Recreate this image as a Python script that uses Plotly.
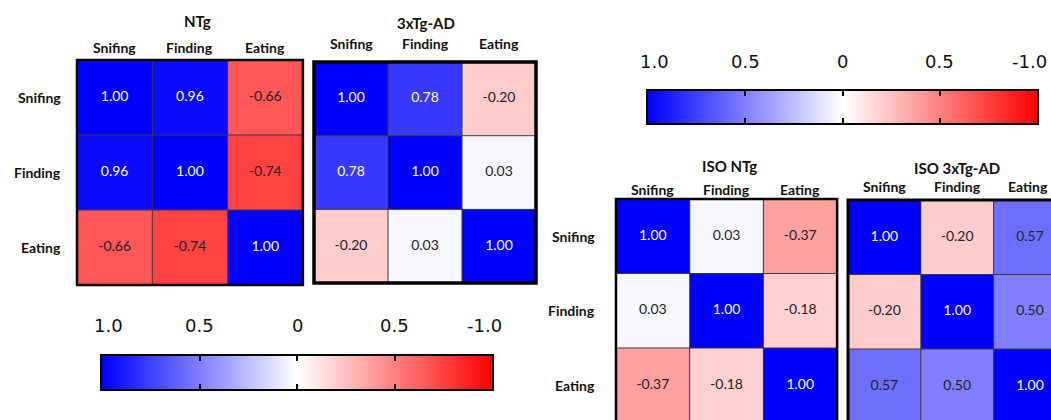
import plotly.graph_objects as go

W, H = 1051, 420

# ---------------- data ----------------
behaviors = ["Snifing", "Finding", "Eating"]
panel_titles = ["NTg", "3xTg-AD", "ISO NTg", "ISO 3xTg-AD"]

ntg = [[1.00, 0.96, -0.66],
       [0.96, 1.00, -0.74],
       [-0.66, -0.74, 1.00]]
tg_ad = [[1.00, 0.78, -0.20],
         [0.78, 1.00, 0.03],
         [-0.20, 0.03, 1.00]]
iso_ntg = [[1.00, 0.03, -0.37],
           [0.03, 1.00, -0.18],
           [-0.37, -0.18, 1.00]]
iso_tg_ad = [[1.00, -0.20, 0.57],
             [-0.20, 1.00, 0.50],
             [0.57, 0.50, 1.00]]

scale_vals = [1.0, 0.5, 0.0, -0.5, -1.0]
scale_labels = ["1.0", "0.5", "0", "0.5", "-1.0"]

# ---------------- styling / layout ----------------
colorscale = [[0.0, "rgb(255,0,0)"], [0.5, "rgb(255,255,255)"], [1.0, "rgb(0,0,255)"]]
LABEL_FONT = dict(family="Lato", size=14, color="#111111")
CELL_FONT = "Lato"


def fx(px):
    return px / W


def fy(py):
    return 1 - py / H


panels = [
    dict(z=ntg, left=77, top=60, cw=75.3, ch=75.0, tx=197, ty=21, cy=47, rx=63, bw=2.5),
    dict(z=tg_ad, left=314, top=62, cw=74.0, ch=73.7, tx=426, ty=23, cy=44, rx=None, bw=3.5),
    dict(z=iso_ntg, left=616, top=199, cw=73.7, ch=74.5, tx=729, ty=166, cy=190, rx=597, bw=2.5),
    dict(z=iso_tg_ad, left=848, top=200, cw=72.8, ch=74.5, tx=957, ty=168, cy=186, rx=None, bw=3.0),
]
bars = [dict(left=102, top=356, w=390, h=33, ly=325),
        dict(left=648, top=91, w=389, h=32, ly=61)]
label_shift = [6, 0, 0, 0, -8]

fig = go.Figure()
shapes = []
annotations = []
layout_axes = {}

for i, p in enumerate(panels):
    k = i + 1
    xa, ya = f"x{k}", f"y{k}"
    right = p["left"] + 3 * p["cw"]
    bottom = p["top"] + 3 * p["ch"]
    vr = min(right, W)
    vb = min(bottom, H)
    layout_axes[f"xaxis{k}"] = dict(
        domain=[fx(p["left"]), fx(vr)],
        range=[-0.5, -0.5 + (vr - p["left"]) / p["cw"]],
        showticklabels=False, showgrid=False, zeroline=False, ticks="",
        anchor=ya, fixedrange=True, automargin=False)
    layout_axes[f"yaxis{k}"] = dict(
        domain=[fy(vb), fy(p["top"])],
        range=[-0.5 + (vb - p["top"]) / p["ch"], -0.5],
        showticklabels=False, showgrid=False, zeroline=False, ticks="",
        anchor=xa, fixedrange=True, automargin=False)

    fig.add_trace(go.Heatmap(
        z=p["z"], x=[0, 1, 2], y=[0, 1, 2], coloraxis="coloraxis",
        xaxis=xa, yaxis=ya, hoverinfo="skip"))

    xs, ys, txt, cols = [], [], [], []
    for r in range(3):
        for c in range(3):
            v = p["z"][r][c]
            xs.append(c)
            ys.append(r)
            txt.append(f"{v:.2f}")
            cols.append("white" if v >= 0.7 else "#222222")
    fig.add_trace(go.Scatter(
        x=xs, y=ys, text=txt, mode="text", xaxis=xa, yaxis=ya,
        textfont=dict(family=CELL_FONT, size=14, color=cols),
        hoverinfo="skip", showlegend=False))

    for g in (0.5, 1.5):
        shapes.append(dict(type="line", xref=xa, yref=ya, x0=g, x1=g, y0=-0.5, y1=2.5,
                           line=dict(color="#3a3a3a", width=1)))
        shapes.append(dict(type="line", xref=xa, yref=ya, y0=g, y1=g, x0=-0.5, x1=2.5,
                           line=dict(color="#3a3a3a", width=1)))
    shapes.append(dict(type="rect", xref="paper", yref="paper",
                       x0=fx(p["left"]), x1=fx(right),
                       y0=fy(bottom), y1=fy(p["top"]),
                       line=dict(color="black", width=p["bw"])))

    annotations.append(dict(xref="paper", yref="paper", x=fx(p["tx"]), y=fy(p["ty"]),
                            text=f"<b>{panel_titles[i]}</b>", showarrow=False,
                            font=dict(family="Lato", size=15, color="#111111"),
                            xanchor="center", yanchor="middle"))
    for c, name in enumerate(behaviors):
        ann = dict(xref=xa, yref="paper", x=c, y=fy(p["cy"]),
                   text=f"<b>{name}</b>", showarrow=False, font=LABEL_FONT,
                   xanchor="center", yanchor="middle")
        # keep the last column label of the right-most panel inside the window
        if right > W and c == 2:
            ann["xanchor"] = "right"
            ann["x"] = -0.5 + (W - 1 - p["left"]) / p["cw"]
        annotations.append(ann)
    if p["rx"] is not None:
        for r, name in enumerate(behaviors):
            annotations.append(dict(xref="paper", yref=ya, x=fx(p["rx"]), y=r,
                                    text=f"<b>{name}</b>", showarrow=False, font=LABEL_FONT,
                                    xanchor="right", yanchor="middle"))

for j, b in enumerate(bars):
    k = 5 + j
    xa, ya = f"x{k}", f"y{k}"
    fig.add_trace(go.Heatmap(
        z=[scale_vals, scale_vals], x=scale_vals, y=[0, 1], zsmooth="best",
        coloraxis="coloraxis", xaxis=xa, yaxis=ya, hoverinfo="skip"))
    layout_axes[f"xaxis{k}"] = dict(
        domain=[fx(b["left"]), fx(b["left"] + b["w"])],
        range=[1.0, -1.0], anchor=ya, side="top",
        tickvals=scale_vals, showticklabels=False,
        ticks="inside", ticklen=5, tickwidth=2, tickcolor="black",
        mirror="ticks", showline=True, linecolor="black", linewidth=2,
        showgrid=False, zeroline=False, fixedrange=True, automargin=False)
    layout_axes[f"yaxis{k}"] = dict(
        domain=[fy(b["top"] + b["h"]), fy(b["top"])],
        range=[-0.5, 1.5], anchor=xa, showticklabels=False, ticks="",
        showline=True, mirror=True, linecolor="black", linewidth=2,
        showgrid=False, zeroline=False, fixedrange=True, automargin=False)
    for v, lab, sh in zip(scale_vals, scale_labels, label_shift):
        annotations.append(dict(xref=xa, yref="paper", x=v, y=fy(b["ly"]), xshift=sh,
                                text=lab, showarrow=False,
                                font=dict(family="DejaVu Sans", size=18, color="#111111"),
                                xanchor="center", yanchor="middle"))

fig.update_layout(
    width=W, height=H, margin=dict(l=0, r=0, t=0, b=0, pad=0, autoexpand=False),
    paper_bgcolor="white", plot_bgcolor="white", showlegend=False,
    coloraxis=dict(colorscale=colorscale, cmin=-1, cmax=1, showscale=False),
    shapes=shapes, annotations=annotations, **layout_axes)

fig.write_html(
    "out.html",
    config={"displayModeBar": False, "staticPlot": True},
    post_script="document.body.style.margin='0';document.body.style.overflow='hidden';")
